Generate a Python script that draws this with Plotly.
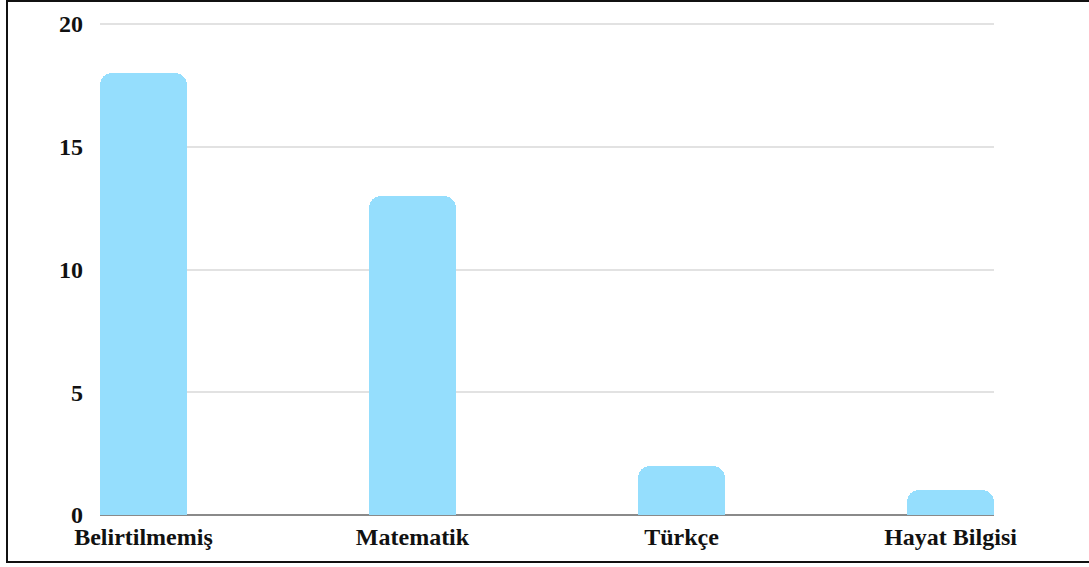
import plotly.graph_objects as go

# Subjects and counts
categories = ["Belirtilmemiş", "Matematik", "Türkçe", "Hayat Bilgisi"]
counts = [18, 13, 2, 1]
y_ticks = [0, 5, 10, 15, 20]

BAR_COLOR = "#95DEFD"
FONT = "Liberation Serif, Times New Roman, serif"

# plot-area geometry (pixels) used for the outer frame
W, H = 1089, 567
L, R, T, B = 100, 95, 20, 52
pw, ph = W - L - R, H - T - B

bar_w = 0.323
y_max = 20.163  # headroom so the gridline at 20 is not clipped at the edge

fig = go.Figure(
    go.Bar(
        x=list(range(len(categories))),
        y=counts,
        width=bar_w,
        marker=dict(color=BAR_COLOR, cornerradius=12, line=dict(width=0)),
        hoverinfo="x+y",
    )
)

fig.update_layout(
    width=W,
    height=H,
    margin=dict(l=L, r=R, t=T, b=B, pad=0),
    paper_bgcolor="white",
    plot_bgcolor="white",
    showlegend=False,
    bargap=0,
    font=dict(family=FONT, size=24, color="#111111"),
)

fig.update_xaxes(
    tickmode="array",
    tickvals=list(range(len(categories))),
    ticktext=categories,
    range=[-bar_w / 2, len(categories) - 1 + bar_w / 2],
    showgrid=False,
    zeroline=False,
    showline=False,
    ticks="",
    tickfont=dict(family=FONT, size=24, weight="bold", color="#111111"),
    ticklabelstandoff=5,
)

fig.update_yaxes(
    range=[0, y_max],
    tickmode="array",
    tickvals=y_ticks,
    showgrid=True,
    gridcolor="#e2e2e2",
    gridwidth=2,
    zeroline=True,
    zerolinecolor="#8a8a8a",
    zerolinewidth=2,
    showline=False,
    ticks="",
    tickfont=dict(family=FONT, size=24, weight="bold", color="#111111"),
    ticklabelstandoff=16,
)

# outer frame (open on the right, runs past the page edge)
left_px, top_px, bot_px, right_px = 7, 1, 562, 1200
fig.add_shape(
    type="rect",
    xref="paper",
    yref="paper",
    x0=(left_px - L) / pw,
    x1=(right_px - L) / pw,
    y0=(H - B - bot_px) / ph,
    y1=(H - B - top_px) / ph,
    line=dict(color="#111111", width=2),
    fillcolor="rgba(0,0,0,0)",
    layer="above",
)

fig.write_html("out.html")
